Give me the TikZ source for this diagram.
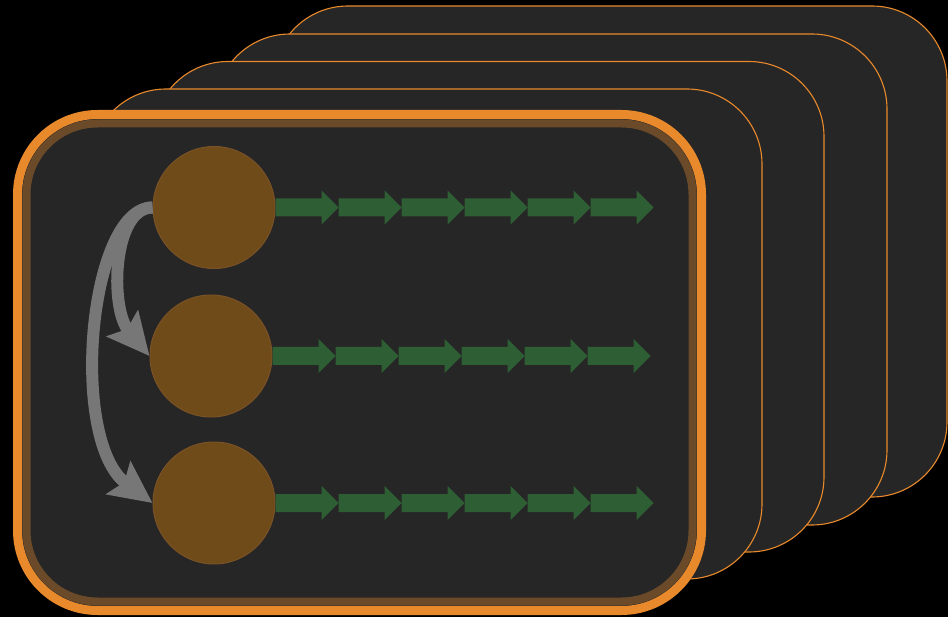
\documentclass[tikz,border=0pt]{standalone}
\usetikzlibrary{arrows.meta}
\definecolor{bgdark}{HTML}{262626}
\definecolor{frameorange}{HTML}{E8892B}
\definecolor{ringbrown}{HTML}{6B4A29}
\definecolor{ballbrown}{HTML}{6F4B1A}
\definecolor{balledge}{HTML}{7A5226}
\definecolor{arrowgreen}{HTML}{2E5E34}
\definecolor{curvegray}{HTML}{777777}
\tikzset{
  backcard/.style={draw=frameorange, line width=1.1pt, fill=bgdark, rounded corners=75pt},
  ball/.style={circle, minimum size=122pt, inner sep=0pt, fill=ballbrown, draw=balledge, line width=1pt},
  garrow/.pic={\fill[arrowgreen] (0,-9) -- (46,-9) -- (46,-17) -- (63,0) -- (46,17) -- (46,9) -- (0,9) -- cycle;},
  loopline/.style={draw=curvegray, line width=12pt, -{Stealth[length=42pt,width=40pt,inset=7pt]}}
}
\begin{document}
\begin{tikzpicture}[x=1pt,y=-1pt]
\fill[black] (0,0) rectangle (948,617);
\useasboundingbox (0,0) rectangle (948,617);
% stacked back cards
\draw[backcard] (273,6) rectangle (947,497);
\draw[backcard] (215,34) rectangle (887,525);
\draw[backcard] (153,61.5) rectangle (824,552);
\draw[backcard] (91,89) rectangle (762,579);
% front card
\draw[draw=frameorange, line width=9pt, fill=bgdark, rounded corners=80pt] (17.5,114.5) rectangle (701.5,610.5);
\draw[draw=ringbrown, line width=8pt, rounded corners=71pt] (26.5,123.5) rectangle (692.5,601.5);
% circles
\node[ball] (c1) at (214,207.5) {};
\node[ball] (c2) at (211,356) {};
\node[ball] (c3) at (214,503) {};
% green arrow rows
\foreach \i in {0,...,5} {
  \path (c1.east) ++(63*\i,0) pic {garrow};
  \path (c2.east) ++(63*\i,0) pic {garrow};
  \path (c3.east) ++(63*\i,0) pic {garrow};
}
% gray curved arrows
\draw[loopline] (c1.west) .. controls +(-40,0) and +(-40,-48) .. (c2.west);
\draw[loopline] (c1.west) .. controls +(-64,0) and +(-84,-62) .. (c3.west);
\end{tikzpicture}
\end{document}
